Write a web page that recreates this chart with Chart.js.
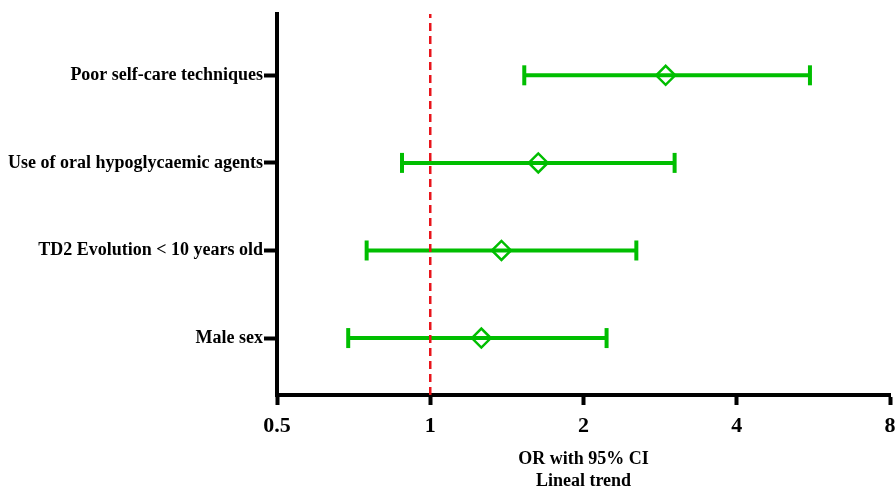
<!DOCTYPE html>
<html><head><meta charset="utf-8">
<script src="https://cdn.jsdelivr.net/npm/chart.js@4/dist/chart.umd.min.js"></script>
<style>html,body{margin:0;padding:0;background:#fff}</style>
</head><body>
<canvas id="c" width="896" height="486"></canvas>
<script>
// Data (bottom to top)
const categories = ['Male sex', 'TD2 Evolution < 10 years old', 'Use of oral hypoglycaemic agents', 'Poor self-care techniques'];
const oddsRatio = [1.26, 1.38, 1.63, 2.90];
const lowerCI   = [0.69, 0.75, 0.88, 1.53];
const upperCI   = [2.22, 2.54, 3.02, 5.57];
const xTicks = [0.5, 1, 2, 4, 8];
const referenceOR = 1;
const xTitle = ['OR with 95% CI', 'Lineal trend'];

const GREEN = '#00BE00';
const FONT = "'Liberation Serif', 'Times New Roman', serif";
const yMin = 0.35, yMax = 4.7;

const datasets = [];
// reference line (index 0 -> drawn on top)
datasets.push({
  type: 'line',
  data: [{x: referenceOR, y: yMin}, {x: referenceOR, y: yMax}],
  borderColor: '#E8141B', borderWidth: 2.5, borderDash: [8, 5],
  pointRadius: 0, fill: false
});
// OR diamonds
datasets.push({
  type: 'scatter',
  data: oddsRatio.map((v, i) => ({x: v, y: i + 1})),
  pointStyle: 'rectRot', pointRadius: 9.5,
  pointBackgroundColor: 'rgba(255,255,255,0)', pointBorderColor: GREEN, pointBorderWidth: 2.5
});
// CI lines with caps
categories.forEach((c, i) => {
  datasets.push({
    type: 'line',
    data: [{x: lowerCI[i], y: i + 1}, {x: upperCI[i], y: i + 1}],
    borderColor: GREEN, borderWidth: 4,
    pointStyle: 'line', rotation: 90, pointRadius: 10,
    pointBorderColor: GREEN, pointBorderWidth: 4, fill: false
  });
});

new Chart(document.getElementById('c'), {
  data: { datasets },
  options: {
    responsive: false, animation: false,
    layout: { autoPadding: false, padding: { top: 14, right: 6, left: 0, bottom: 0 } },
    plugins: { legend: { display: false }, tooltip: { enabled: false } },
    scales: {
      x: {
        type: 'logarithmic', position: 'bottom', min: 0.5, max: 8,
        afterBuildTicks: s => { s.ticks = xTicks.map(v => ({ value: v })); },
        afterFit: s => { s.height = 91; s.paddingRight = 0; s.paddingLeft = 0; },
        ticks: { autoSkip: false, maxRotation: 0, color: '#000', padding: 8,
          font: { family: FONT, size: 22, weight: 'bold' },
          callback: v => String(v) },
        grid: { drawOnChartArea: false, drawTicks: true, tickLength: 10, tickWidth: 4, color: '#000', tickColor: '#000' },
        border: { display: true, color: '#000', width: 4 },
        title: { display: true, text: xTitle, color: '#000', padding: { top: 12, bottom: -6 },
          font: { family: FONT, size: 18, weight: 'bold', lineHeight: 1.2 } }
      },
      y: {
        type: 'linear', min: yMin, max: yMax,
        afterBuildTicks: s => { s.ticks = categories.map((c, i) => ({ value: i + 1 })); },
        afterFit: s => { s.width = 277; },
        ticks: { autoSkip: false, color: '#000', padding: 1,
          font: { family: FONT, size: 18, weight: 'bold' },
          callback: v => categories[v - 1] },
        grid: { drawOnChartArea: false, drawTicks: true, tickLength: 13, tickWidth: 4, color: '#000', tickColor: '#000' },
        border: { display: true, color: '#000', width: 4 }
      }
    }
  }
});
</script>
</body></html>
